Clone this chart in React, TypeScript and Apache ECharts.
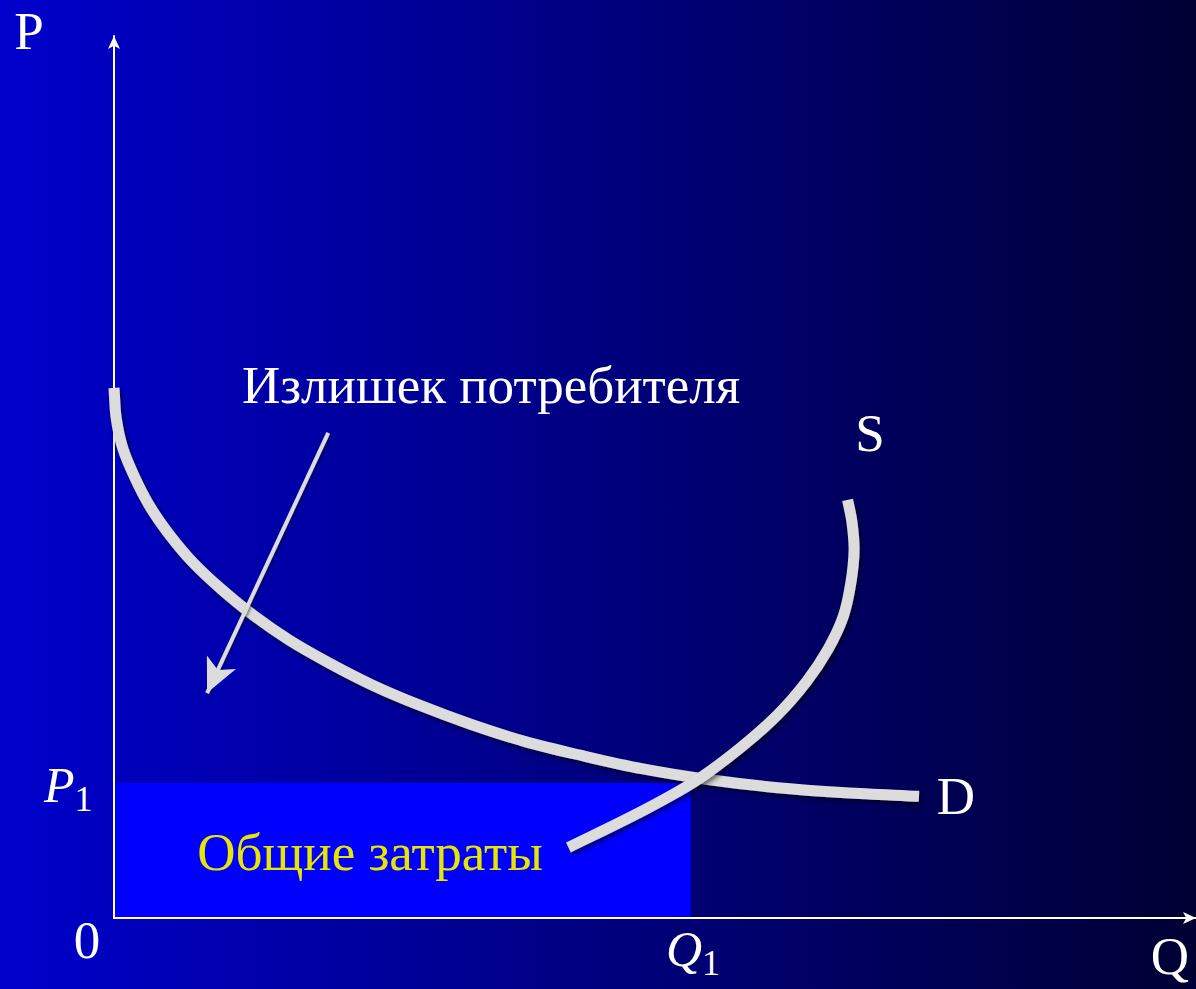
import React, { useEffect, useRef } from "react";
import * as echarts from "echarts";

// Quantity / price scale of the diagram
const Q_MAX = 10;
const P_MAX = 10;

// Demand curve D
const demandQ = [0.0, 0.02, 0.08, 0.19, 0.33, 0.51, 0.73, 0.99, 1.29, 1.62, 1.99, 2.39, 2.83, 3.29, 3.8, 4.33, 4.89, 5.49, 6.11, 6.76, 7.44];
const demandP = [6.01, 5.67, 5.33, 5.0, 4.67, 4.35, 4.03, 3.73, 3.43, 3.15, 2.89, 2.64, 2.41, 2.2, 2.0, 1.84, 1.69, 1.57, 1.48, 1.42, 1.38];

// Supply curve S
const supplyQ = [4.2, 4.83, 5.37, 5.79, 6.13, 6.4, 6.6, 6.74, 6.81, 6.84, 6.82, 6.78];
const supplyP = [0.8, 1.18, 1.55, 1.93, 2.3, 2.68, 3.05, 3.42, 3.8, 4.17, 4.49, 4.74];

// Equilibrium
const Q1 = 5.33;
const P1 = 1.53;

// Pointer from the consumer-surplus caption into the area under D
const pointerFrom = [1.98, 5.5];
const pointerTo = [0.86, 2.55];

const FONT = '"Liberation Serif", "Times New Roman", serif';
const CURVE = "#DCDCDC";

// Smooth path through screen points (chord-length Catmull-Rom as cubic Béziers)
function splinePath(pts: number[][]): string {
  const n = pts.length;
  const dist = (a: number[], b: number[]) => Math.hypot(b[0] - a[0], b[1] - a[1]) || 1;
  const tangents = pts.map((p, i) => {
    const prev = pts[Math.max(0, i - 1)];
    const next = pts[Math.min(n - 1, i + 1)];
    const len = (i > 0 ? dist(prev, p) : 0) + (i < n - 1 ? dist(p, next) : 0);
    return [(next[0] - prev[0]) / len, (next[1] - prev[1]) / len];
  });
  let d = `M${pts[0][0]},${pts[0][1]}`;
  for (let i = 0; i < n - 1; i++) {
    const a = pts[i];
    const b = pts[i + 1];
    const h = dist(a, b) / 3;
    const c1 = [a[0] + tangents[i][0] * h, a[1] + tangents[i][1] * h];
    const c2 = [b[0] - tangents[i + 1][0] * h, b[1] - tangents[i + 1][1] * h];
    d += ` C${c1[0]},${c1[1]} ${c2[0]},${c2[1]} ${b[0]},${b[1]}`;
  }
  return d;
}

function curveSeries(name: string, qs: number[], ps: number[]) {
  return {
    name,
    type: "custom",
    z: 5,
    silent: true,
    data: [[qs[0], ps[0]]],
    renderItem: (_params: any, api: any) => {
      const pts = qs.map((q, i) => api.coord([q, ps[i]]));
      return {
        type: "path",
        shape: { pathData: splinePath(pts) },
        style: {
          fill: "none",
          stroke: CURVE,
          lineWidth: 11,
          lineCap: "butt",
          lineJoin: "round",
          shadowColor: "rgba(0,0,0,0.55)",
          shadowBlur: 5,
          shadowOffsetX: 2,
          shadowOffsetY: 3,
        },
      };
    },
  };
}

export default function App() {
  const ref = useRef<HTMLDivElement>(null);

  useEffect(() => {
    if (!ref.current) return;
    const chart = echarts.init(ref.current, undefined, { renderer: "svg" });

    const text = (t: string, x: number, y: number, extra: any = {}) => ({
      type: "text",
      z: 100,
      style: {
        text: t,
        x,
        y,
        fill: "#FFFFFF",
        font: `53px ${FONT}`,
        align: "center",
        verticalAlign: "middle",
        ...extra,
      },
    });

    // italic letter with an upright subscript "1"
    const subscripted = (letter: string, x: number, y: number) => ({
      type: "text",
      z: 100,
      style: {
        text: `{v|${letter}}{s|1}`,
        x,
        y,
        fill: "#FFFFFF",
        align: "left",
        verticalAlign: "middle",
        rich: {
          v: {
            fontFamily: FONT,
            fontStyle: "italic",
            fontSize: 50,
            lineHeight: 64,
            fill: "#FFFFFF",
          },
          s: {
            fontFamily: FONT,
            fontSize: 36,
            lineHeight: 36,
            verticalAlign: "bottom",
            fill: "#FFFFFF",
          },
        },
      },
    });

    const axis = (max: number) => ({
      type: "value",
      min: 0,
      max,
      z: 3,
      axisLine: {
        show: true,
        onZero: false,
        symbol: ["none", "arrow"],
        symbolSize: [9, 13],
        lineStyle: { color: "#FFFFFF", width: 2 },
      },
      axisTick: { show: false },
      axisLabel: { show: false },
      splitLine: { show: false },
    });

    chart.setOption({
      animation: false,
      backgroundColor: new echarts.graphic.LinearGradient(0, 0, 1, 0, [
        { offset: 0, color: "#0000CC" },
        { offset: 1, color: "#000033" },
      ]),
      grid: { left: 114, right: 0, top: 36, bottom: 71 },
      xAxis: axis(Q_MAX),
      yAxis: axis(P_MAX),
      series: [
        {
          // total expenditure P1 x Q1
          type: "line",
          z: 1,
          data: [],
          markArea: {
            z: 1,
            silent: true,
            itemStyle: { color: "#0000FF", opacity: 1 },
            data: [[{ coord: [0, 0] }, { coord: [Q1, P1] }]],
          },
        },
        curveSeries("D", demandQ, demandP),
        curveSeries("S", supplyQ, supplyP),
        {
          type: "line",
          z: 6,
          data: [],
          markLine: {
            z: 6,
            silent: true,
            symbol: ["none", "arrow"],
            symbolSize: [24, 34],
            label: { show: false },
            itemStyle: { color: CURVE },
            lineStyle: {
              color: CURVE,
              width: 4,
              type: "solid",
              shadowColor: "rgba(0,0,0,0.5)",
              shadowBlur: 3,
              shadowOffsetX: 1,
              shadowOffsetY: 2,
            },
            data: [[{ coord: pointerFrom }, { coord: pointerTo }]],
          },
        },
      ],
      graphic: [
        text("P", 29, 31),
        text("Q", 1170, 956),
        text("0", 87, 940),
        text("S", 870, 433),
        text("D", 956, 796),
        text("Излишек потребителя", 491, 385),
        text("Общие затраты", 370, 852, { fill: "#E6E600" }),
        subscripted("P", 44, 785),
        subscripted("Q", 666, 949),
      ],
    });

    return () => chart.dispose();
  }, []);

  return (
    <div
      ref={ref}
      style={{ position: "fixed", left: 0, top: 0, width: 1196, height: 989 }}
    />
  );
}
